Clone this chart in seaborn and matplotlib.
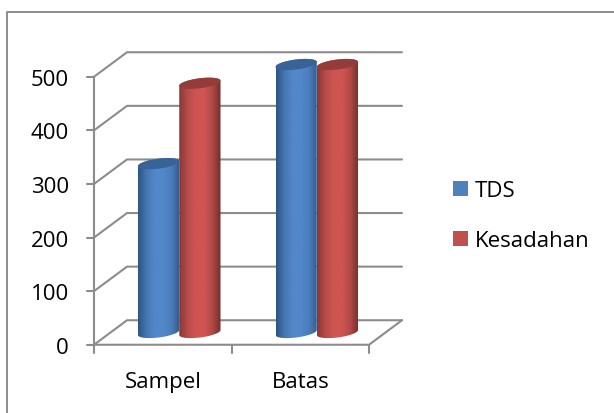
import matplotlib
matplotlib.use("Agg")
import matplotlib.pyplot as plt
import numpy as np
import pandas as pd
import seaborn as sns
from matplotlib.colors import LinearSegmentedColormap
from matplotlib.lines import Line2D
from matplotlib.patches import Patch, Polygon

categories = ["Sampel", "Batas"]
tds_values = [315, 500]
kesadahan_values = [465, 500]
series_names = ["TDS", "Kesadahan"]
y_ticks = [0, 100, 200, 300, 400, 500]

sns.set_theme(style="white")
plt.rcParams["font.family"] = ["Open Sans", "DejaVu Sans"]

W, H = 614, 414
GREY = "#8c8c8c"

# colours for each series: flat (legend), top cap, side shading
styles = {
    "TDS": ("#4f81bd", "#386396", ["#2f5485", "#4577b2", "#5287c9", "#5287c9", "#4b7dbb", "#325a8a"]),
    "Kesadahan": ("#c0504d", "#943c3a", ["#8a3836", "#b54c49", "#cf5552", "#cf5552", "#b04a47", "#732e2c"]),
}

df = pd.DataFrame({
    "cat": categories * 2,
    "series": [series_names[0]] * 2 + [series_names[1]] * 2,
    "val": tds_values + kesadahan_values,
})

fig = plt.figure(figsize=(W / 100, H / 100), dpi=100)
# outer frame only shows on top and left
fig.add_artist(Line2D([6.5 / W, 6.5 / W, 1], [0, 1 - 12.5 / H, 1 - 12.5 / H], transform=fig.transFigure,
                      color=GREY, linewidth=1.4))

# axes box = the mid depth plane of the 3d chart
ax = fig.add_axes([110.5 / W, 1 - 333.5 / H, 275 / W, 268 / H])
sns.barplot(data=df, x="cat", y="val", hue="series", order=categories, hue_order=series_names,
            width=0.6, gap=0, dodge=True, legend=False, saturation=1, ax=ax)
ax.set_xlim(-0.5, 1.5)
ax.set_ylim(0, 500)
ax.axis("off")

# depth offset of walls in data units
dx = 16.5 / 137.5
dy = 12.25 / 0.536


def wall_line(xs, ys):
    ax.plot(xs, ys, color=GREY, lw=1.5, clip_on=False, zorder=1, solid_capstyle="round")


x0, x1 = -0.5, 1.5
for t in y_ticks:
    wall_line([x0 - dx, x0 + dx, x1 + dx], [t - dy, t + dy, t + dy])
    wall_line([x0 - dx - 7 / 137.5, x0 - dx], [t - dy, t - dy])
    ax.text(x0 - dx - 25 / 137.5, t - dy - 2.5 / 0.536, str(t), ha="right", va="center", fontsize=16, color="black")
wall_line([x0 - dx, x0 - dx], [-dy, 500 - dy])
wall_line([x0 - dx, x1 - dx, x1 + dx], [-dy, -dy, dy])
for i in range(len(categories) + 1):
    wall_line([x0 - dx + i, x0 - dx + i], [-dy, -dy - 8 / 0.536])
for i, c in enumerate(categories):
    ax.text(i - dx, -dy - 37 / 0.536, c, ha="center", va="center", fontsize=16, color="black")

# turn the seaborn bars into cylinders
b = 5 / 0.536
s = 2.5 / 0.536
bars = [p for p in ax.patches if p.get_height() > 0]
for p, name in zip(bars, [series_names[0]] * 2 + [series_names[1]] * 2):
    flat, cap, stops = styles[name]
    p.set_visible(False)
    left, w, h = p.get_x(), p.get_width(), p.get_height()
    cx = left + w / 2
    t_top = np.linspace(np.pi, 0, 60)
    t_bot = np.linspace(0, -np.pi, 60)
    t_all = np.linspace(0, 2 * np.pi, 120)
    outline = np.vstack([
        np.column_stack([cx + w / 2 * np.cos(t_top), h + b * np.sin(t_top) + s * np.cos(t_top)]),
        np.column_stack([cx + w / 2 * np.cos(t_bot), b * np.sin(t_bot) + s * np.cos(t_bot)]),
    ])
    cmap = LinearSegmentedColormap.from_list(name, stops)
    im = ax.imshow(np.linspace(0, 1, 64).reshape(1, -1), cmap=cmap, aspect="auto",
                   extent=[left, left + w, -30, h + 30], zorder=3)
    im.set_clip_box(fig.bbox)
    im.set_clip_path(Polygon(outline, closed=True, transform=ax.transData))
    ax.add_patch(Polygon(np.column_stack([cx + w / 2 * np.cos(t_all), h + b * np.sin(t_all) + s * np.cos(t_all)]),
                         closed=True, facecolor=cap, edgecolor="none", zorder=3.5, clip_on=False))
ax.set_xlim(-0.5, 1.5)
ax.set_ylim(0, 500)

handles = [Patch(facecolor=styles[n][0], edgecolor="none") for n in series_names]
fig.legend(handles, series_names, loc="center left", bbox_to_anchor=(453 / W, 1 - 216.5 / H),
           frameon=False, fontsize=16, handlelength=0.68, handleheight=0.68, handletextpad=0.32,
           labelspacing=1.3, borderaxespad=0, borderpad=0, labelcolor="black")

fig.savefig("out.png", dpi=100)
